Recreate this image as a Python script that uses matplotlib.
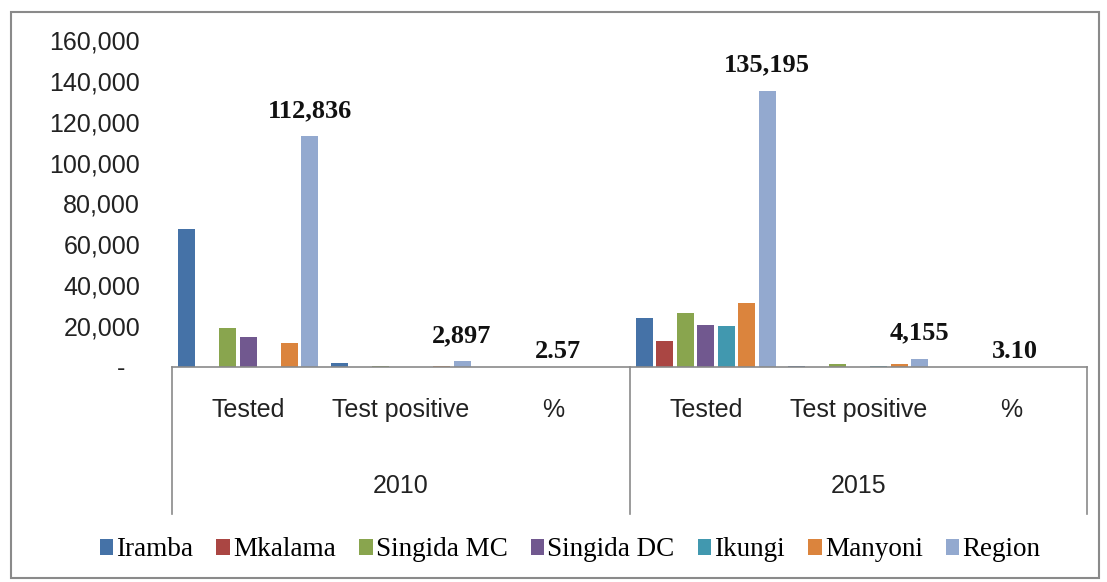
import numpy as np
import matplotlib
matplotlib.use("Agg")
from matplotlib import pyplot as plt
from matplotlib.patches import Rectangle
from matplotlib.transforms import ScaledTranslation

# categories (two-level axis)
years = ["2010", "2015"]
measures = ["Tested", "Test positive", "%"]

districts = ["Iramba", "Mkalama", "Singida MC", "Singida DC", "Ikungi", "Manyoni", "Region"]
colors = ["#4572A7", "#AA4643", "#89A54E", "#71588F", "#4198AF", "#DB843D", "#93A9CF"]

# values per district: [2010 Tested, 2010 Test positive, 2010 %, 2015 Tested, 2015 Test positive, 2015 %]
iramba = [67600, 1900, 2.81, 23800, 600, 2.52]
mkalama = [0, 0, 0, 12700, 100, 0.79]
singida_mc = [19000, 500, 2.63, 26400, 1300, 4.92]
singida_dc = [14600, 0, 0, 20700, 155, 0.75]
ikungi = [0, 0, 0, 20100, 700, 3.48]
manyoni = [11636, 497, 4.27, 31495, 1300, 4.13]
region = [112836, 2897, 2.57, 135195, 4155, 3.10]
series = [iramba, mkalama, singida_mc, singida_dc, ikungi, manyoni, region]

region_labels = ["112,836", "2,897", "2.57", "135,195", "4,155", "3.10"]

yticks = [0, 20000, 40000, 60000, 80000, 100000, 120000, 140000, 160000]

plt.rcParams["font.family"] = ["Liberation Sans", "DejaVu Sans"]

fig = plt.figure(figsize=(11.07, 5.82), dpi=100)
ax = fig.add_axes([172 / 1107, 1 - 367 / 582, 915 / 1107, 327 / 582])

x = np.arange(len(years) * len(measures))
pitch = 0.134
for i, (name, vals, c) in enumerate(zip(districts, series, colors)):
    ax.bar(x + (i - 3) * pitch, vals, width=0.112, color=c, label=name, zorder=2)

# data labels for the Region series
for j, lab in enumerate(region_labels):
    if measures[j % 3] == "%":
        xp, dy = x[j] + 0.03, 3
    else:
        xp, dy = x[j] + 3 * pitch, 10
    ax.annotate(lab, (xp, region[j]), xytext=(0, dy), textcoords="offset points",
                ha="center", va="bottom", fontsize=19, fontweight="bold",
                family="Liberation Serif", color="#111111")

ax.set_xlim(-0.5, 5.5)
ax.set_ylim(0, 160000)
ax.set_yticks(yticks)
ax.set_yticklabels(["-"] + [f"{v:,}" for v in yticks[1:]])
ax.tick_params(axis="y", length=0, pad=23, labelsize=18, labelcolor="#222222")
ax.yaxis.get_ticklabels()[0].set_transform(
    ax.yaxis.get_ticklabels()[0].get_transform() + ScaledTranslation(-15 / 100, 0, fig.dpi_scale_trans))

ax.set_xticks(x)
ax.set_xticklabels(measures * len(years))
ax.tick_params(axis="x", length=0, pad=22, labelsize=18, labelcolor="#222222")

for s in ["left", "right", "top"]:
    ax.spines[s].set_visible(False)
ax.spines["bottom"].set_color("#8a8a8a")
ax.spines["bottom"].set_linewidth(1.2)

# group box below the axis
trans = ax.get_xaxis_transform()
for xb in [-0.5, 2.5, 5.5]:
    ax.plot([xb, xb], [0, -0.45], transform=trans, color="#8a8a8a", lw=1.2, clip_on=False)
for k, yr in enumerate(years):
    ax.text(1 + 3 * k, -0.365, yr, transform=trans, ha="center", va="center",
            fontsize=18, color="#222222")

handles, labels = ax.get_legend_handles_labels()
fig.legend(handles, labels, loc="center", bbox_to_anchor=(0.515, 32 / 582), ncol=7,
           frameon=False, prop={"family": "Liberation Serif", "size": 19.5},
           handlelength=0.5, handleheight=0.5, handletextpad=0.12, columnspacing=0.85)

fig.patches.append(Rectangle((11 / 1107, 4 / 582), 1088 / 1107, 566 / 582,
                             transform=fig.transFigure, fill=False, edgecolor="#8a8a8a", lw=1.5))

fig.savefig("out.png", dpi=100)
